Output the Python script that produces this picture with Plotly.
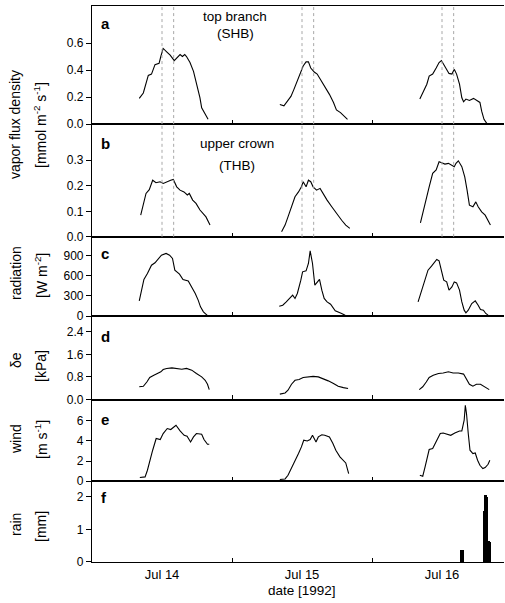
import plotly.graph_objects as go
from plotly.subplots import make_subplots

# ---------------- data (hours of day, values) ----------------
DAYS = ["Jul 14", "Jul 15", "Jul 16"]

# a: vapor flux density, top branch (SHB) [mmol m-2 s-1]
shb_h1 = [8.1, 8.8, 9.65, 10.2, 10.8, 11.5, 11.8, 12.2, 12.8, 13.4, 14.1, 14.5, 15.1, 15.5, 15.9, 16.2, 16.8, 17.4, 17.9, 18.5, 18.8, 19.4, 19.9]
shb_v1 = [0.19, 0.23, 0.36, 0.37, 0.44, 0.45, 0.50, 0.56, 0.535, 0.51, 0.47, 0.49, 0.515, 0.50, 0.515, 0.50, 0.455, 0.39, 0.305, 0.195, 0.12, 0.07, 0.035]
shb_h2 = [8.2, 8.9, 9.5, 10.1, 10.6, 11.2, 11.8, 12.2, 12.7, 13.1, 13.5, 14.1, 14.6, 15.2, 15.9, 16.7, 17.4, 17.9, 18.6, 19.2, 19.8]
shb_v2 = [0.145, 0.135, 0.17, 0.205, 0.255, 0.32, 0.39, 0.43, 0.46, 0.46, 0.415, 0.385, 0.37, 0.33, 0.28, 0.22, 0.16, 0.105, 0.085, 0.06, 0.035]
shb_h3 = [8.2, 8.8, 9.4, 9.8, 10.4, 11.0, 11.5, 11.9, 12.3, 12.8, 13.2, 13.7, 14.1, 14.5, 15.0, 15.4, 15.7, 16.1, 16.7, 17.4, 17.9, 18.5, 18.8, 19.2, 19.7, 20.1]
shb_v3 = [0.185, 0.245, 0.295, 0.355, 0.37, 0.415, 0.455, 0.47, 0.44, 0.395, 0.375, 0.37, 0.405, 0.37, 0.295, 0.195, 0.165, 0.185, 0.175, 0.19, 0.175, 0.16, 0.095, 0.035, 0.003, 0.0]

# b: vapor flux density, upper crown (THB)
thb_h1 = [8.35, 8.8, 9.26, 9.82, 10.4, 10.97, 11.66, 12.22, 12.8, 13.49, 13.94, 14.52, 15.09, 15.77, 16.34, 16.68, 17.26, 17.83, 18.51, 19.08, 19.54, 20.23]
thb_v1 = [0.085, 0.13, 0.17, 0.185, 0.222, 0.212, 0.216, 0.209, 0.216, 0.222, 0.225, 0.196, 0.183, 0.176, 0.164, 0.17, 0.144, 0.131, 0.105, 0.092, 0.078, 0.046]
thb_h2 = [8.5, 9.1, 9.6, 10.2, 10.8, 11.4, 11.9, 12.2, 12.7, 13.1, 13.5, 13.9, 14.5, 15.1, 15.6, 16.3, 17.1, 17.9, 18.8, 19.5, 20.2]
thb_v2 = [0.02, 0.046, 0.078, 0.118, 0.157, 0.176, 0.196, 0.216, 0.196, 0.222, 0.216, 0.196, 0.183, 0.19, 0.17, 0.144, 0.118, 0.092, 0.065, 0.046, 0.033]
thb_h3 = [8.3, 8.8, 9.3, 9.8, 10.4, 11.0, 11.5, 12.0, 12.5, 13.1, 13.7, 14.1, 14.4, 14.8, 15.4, 15.9, 16.3, 16.7, 17.3, 17.8, 18.2, 18.8, 19.4, 19.9, 20.3]
thb_v3 = [0.055, 0.105, 0.157, 0.196, 0.249, 0.262, 0.294, 0.288, 0.285, 0.288, 0.281, 0.275, 0.288, 0.298, 0.275, 0.235, 0.183, 0.124, 0.118, 0.137, 0.118, 0.098, 0.085, 0.065, 0.046]

# c: radiation [W m-2]
rad_h1 = [8.1, 8.5, 8.9, 9.5, 10.2, 10.8, 11.4, 11.9, 12.7, 13.3, 13.8, 14.2, 15.0, 15.6, 16.5, 17.1, 17.7, 18.2, 18.6, 19.1, 19.7, 19.9]
rad_v1 = [227, 386, 545, 634, 757, 792, 857, 906, 931, 906, 857, 683, 624, 545, 524, 435, 337, 238, 138, 64, 15, 0]
rad_h2 = [8.1, 8.7, 9.3, 9.8, 10.4, 10.8, 11.2, 11.8, 12.1, 12.7, 13.1, 13.4, 13.8, 14.2, 14.5, 15.0, 15.4, 15.8, 16.3, 16.9, 17.7, 18.2, 18.8, 19.4, 19.8]
rad_v2 = [148, 163, 212, 263, 312, 263, 337, 535, 658, 673, 782, 970, 782, 460, 494, 545, 386, 263, 212, 178, 79, 64, 40, 15, 0]
rad_h3 = [7.9, 8.5, 9.1, 9.6, 10.2, 10.6, 11.1, 11.5, 11.9, 12.3, 12.8, 13.2, 13.7, 14.1, 14.5, 15.0, 15.4, 15.8, 16.1, 16.5, 17.1, 17.7, 18.2, 18.6, 19.1, 19.5, 19.9]
rad_v3 = [212, 386, 560, 683, 742, 782, 842, 821, 683, 535, 509, 386, 435, 509, 494, 386, 212, 89, 49, 89, 188, 227, 163, 99, 89, 40, 15]

# d: vapour pressure deficit [kPa]
vpd_h1 = [8.1, 8.8, 9.4, 9.9, 10.6, 11.2, 11.8, 12.2, 12.8, 13.7, 14.5, 15.4, 16.2, 17.1, 17.9, 18.8, 19.4, 19.8, 20.1]
vpd_v1 = [0.45, 0.47, 0.62, 0.78, 0.86, 0.92, 0.98, 1.06, 1.10, 1.12, 1.10, 1.07, 1.10, 1.04, 0.92, 0.80, 0.68, 0.54, 0.35]
vpd_h2 = [8.2, 9.1, 9.6, 10.2, 10.8, 11.5, 12.2, 13.1, 13.9, 14.8, 15.6, 16.5, 17.4, 18.2, 19.1, 19.9]
vpd_v2 = [0.19, 0.23, 0.33, 0.54, 0.68, 0.71, 0.78, 0.80, 0.82, 0.80, 0.74, 0.66, 0.57, 0.47, 0.42, 0.39]
vpd_h3 = [8.1, 8.7, 9.3, 9.8, 10.5, 11.4, 12.2, 13.1, 13.9, 14.8, 15.7, 16.2, 16.7, 17.3, 17.9, 18.6, 19.2, 19.7, 20.1]
vpd_v3 = [0.35, 0.45, 0.62, 0.78, 0.86, 0.92, 0.94, 0.98, 0.94, 0.94, 0.90, 0.74, 0.54, 0.47, 0.54, 0.54, 0.47, 0.39, 0.35]

# e: wind [m s-1]
wind_h1 = [8.2, 9.1, 9.5, 9.9, 10.4, 11.0, 11.7, 12.2, 12.9, 13.5, 14.4, 15.1, 15.8, 16.3, 16.9, 17.4, 17.9, 18.8, 19.2, 19.8, 20.1]
wind_v1 = [0.37, 0.43, 1.09, 2.08, 3.07, 4.23, 4.13, 4.72, 5.22, 5.12, 5.54, 4.98, 4.55, 4.46, 3.89, 4.39, 4.72, 4.65, 4.13, 3.66, 3.66]
wind_h2 = [8.2, 9.1, 9.6, 10.2, 10.8, 11.4, 11.9, 12.3, 12.9, 13.4, 13.8, 14.4, 14.8, 15.4, 15.9, 16.7, 17.3, 17.8, 18.5, 19.1, 19.5, 20.0]
wind_v2 = [0.17, 0.23, 0.59, 1.26, 1.91, 2.74, 3.40, 4.06, 3.99, 4.13, 4.55, 3.89, 4.39, 4.60, 4.55, 4.39, 3.73, 3.07, 2.41, 2.08, 1.81, 0.76]
wind_h3 = [8.2, 8.7, 9.1, 9.5, 9.8, 10.4, 11.0, 11.7, 12.2, 12.9, 13.5, 14.2, 15.0, 15.4, 15.8, 16.0, 16.2, 16.5, 16.8, 17.3, 17.7, 18.1, 18.5, 19.0, 19.4, 19.9, 20.2]
wind_v3 = [0.59, 0.50, 1.42, 2.41, 3.14, 3.24, 3.89, 4.72, 4.78, 4.65, 4.55, 4.78, 4.98, 4.98, 6.04, 7.52, 6.70, 4.72, 3.07, 2.74, 2.80, 2.08, 1.58, 1.26, 1.36, 1.68, 2.08]

# f: rain [mm], 10-minute totals on Jul 16
rain_h = [15.33, 15.5, 15.67, 19.17, 19.33, 19.5, 19.67, 19.83, 20.0, 20.17]
rain_v = [0.35, 0.35, 0.35, 1.55, 2.05, 2.05, 2.0, 0.64, 0.64, 0.62]

# ---------------- figure ----------------
W, H = 505, 603
L, R, T, B = 92, 1, 6, 41
PW, PH = W - L - R, H - T - B
X_MAX = PW / 140.0  # days shown from Jul 14 00:00

LINE = dict(color="black", width=1.1)
FONT = "Liberation Sans, Arial, Helvetica, sans-serif"

fig = make_subplots(rows=6, cols=1, shared_xaxes=True, vertical_spacing=0,
                    row_heights=[118, 112.7, 79.3, 83.3, 81.7, 80.7])

panels = [
    [(shb_h1, shb_v1), (shb_h2, shb_v2), (shb_h3, shb_v3)],
    [(thb_h1, thb_v1), (thb_h2, thb_v2), (thb_h3, thb_v3)],
    [(rad_h1, rad_v1), (rad_h2, rad_v2), (rad_h3, rad_v3)],
    [(vpd_h1, vpd_v1), (vpd_h2, vpd_v2), (vpd_h3, vpd_v3)],
    [(wind_h1, wind_v1), (wind_h2, wind_v2), (wind_h3, wind_v3)],
]
for r, days in enumerate(panels, start=1):
    for d, (hh, vv) in enumerate(days):
        fig.add_trace(go.Scatter(x=[d + h / 24.0 for h in hh], y=vv, mode="lines",
                                 line=LINE, hoverinfo="skip"), row=r, col=1)

fig.add_trace(go.Bar(x=[2 + h / 24.0 for h in rain_h], y=rain_v, width=1 / 6 / 24.0,
                     marker=dict(color="black", line=dict(width=0))), row=6, col=1)

# dotted reference lines at 12:00 and 14:00 in panels a and b
for r in (1, 2):
    for d in range(3):
        for hr in (12, 14):
            fig.add_vline(x=d + hr / 24.0, row=r, col=1,
                          line=dict(color="#a8a8a8", width=1, dash="dot"))

yspec = [
    dict(range=[0, 0.874], tickvals=[0, 0.2, 0.4, 0.6], tickformat=".1f"),
    dict(range=[0, 0.442], tickvals=[0, 0.1, 0.2, 0.3], tickformat=".1f"),
    dict(range=[0, 1178], tickvals=[0, 300, 600, 900], tickformat="d"),
    dict(range=[0, 2.95], tickvals=[0, 0.8, 1.6, 2.4], tickformat=".1f"),
    dict(range=[0, 8.09], tickvals=[0, 2, 4, 6], tickformat="d"),
    dict(range=[0, 2.48], tickvals=[0, 1, 2], tickformat="d"),
]
for r, ys in enumerate(yspec, start=1):
    fig.update_yaxes(row=r, col=1, showline=True, linecolor="black", linewidth=1.2,
                     ticks="outside", ticklen=5, tickwidth=1, tickcolor="black",
                     showgrid=False, zeroline=False,
                     tickfont=dict(size=12, color="black", family=FONT), **ys)
    fig.update_xaxes(row=r, col=1, range=[0, X_MAX], showline=True, linecolor="black",
                     linewidth=1.2, mirror=True, showgrid=False, zeroline=False,
                     tickmode="array", tickvals=[0.5, 1.5, 2.5], ticktext=DAYS, ticks="",
                     showticklabels=(r == 6),
                     tickfont=dict(size=13, color="black", family=FONT),
                     minor=dict(tickmode="array", tickvals=[1, 2], ticks="inside",
                                ticklen=4, tickwidth=1, tickcolor="black"))


def px(x):
    return (x - L) / PW


def py(y):
    return (H - B - y) / PH


ann = []
letters = ["a", "b", "c", "d", "e", "f"]
letter_y = [23, 143, 253, 336, 419, 497]
for t, yy in zip(letters, letter_y):
    ann.append(dict(text="<b>%s</b>" % t, x=px(99), y=py(yy), xref="paper", yref="paper",
                    xanchor="left", yanchor="middle", showarrow=False,
                    font=dict(size=15, family=FONT, color="black")))

labels = [
    ("top branch", 235, 16, 0), ("(SHB)", 235, 33, 0),
    ("upper crown", 237, 143, 0), ("(THB)", 237, 165, 0),
    ("vapor flux density", 15, 125, -90), ("[mmol m<sup>-2</sup> s<sup>-1</sup>]", 40, 125, -90),
    ("radiation", 16, 273, -90), ("[W m<sup>-2</sup>]", 41, 276, -90),
    ("\u03b4e", 16, 360, -90), ("[kPa]", 41, 366, -90),
    ("wind", 16, 439, -90), ("[m s<sup>-1</sup>]", 41, 440, -90),
    ("rain", 16, 525, -90), ("[mm]", 41, 527, -90),
    ("date [1992]", 302, 590, 0),
]
for t, xx, yy, ang in labels:
    ann.append(dict(text=t, x=px(xx), y=py(yy), xref="paper", yref="paper",
                    showarrow=False, textangle=ang, xanchor="center", yanchor="middle",
                    font=dict(size=14 if ang else 13.5, family=FONT, color="black")))

fig.update_layout(width=W, height=H, margin=dict(l=L, r=R, t=T, b=B),
                  plot_bgcolor="white", paper_bgcolor="white", showlegend=False,
                  bargap=0, annotations=ann, font=dict(family=FONT, color="black"))

fig.write_html("out.html", config={"displayModeBar": False},
               post_script="document.body.style.margin='0';document.body.style.padding='0';")
